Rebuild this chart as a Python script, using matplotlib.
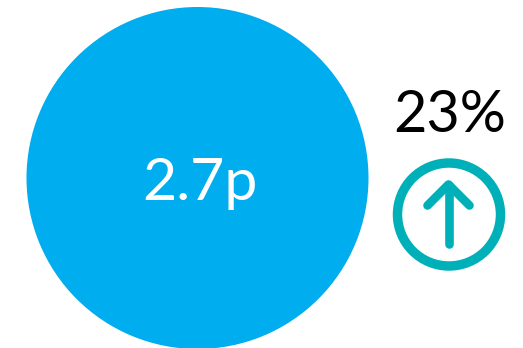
import matplotlib
matplotlib.use('Agg')
import matplotlib.pyplot as plt
from matplotlib.patches import Circle

W, H = 523, 348

value_label = '2.7p'
change_label = '23%'
bubble_x, bubble_y, bubble_r = 197.5, 178, 171
badge_x, badge_y, badge_r = 449, 214.5, 51.5
arrow_x = [448.5, 448.5]
arrow_y = [243.5, 184.5]
head_x = [427.5, 448.5, 469.5]
head_y = [205.5, 184.5, 205.5]

blue = '#00ADEF'
teal = '#00B0B9'

plt.rcParams['font.family'] = ['Lato', 'DejaVu Sans']

fig = plt.figure(figsize=(W / 100, H / 100), dpi=100)
ax = fig.add_axes([0, 0, 1, 1])
ax.set_xlim(0, W)
ax.set_ylim(H, 0)
ax.axis('off')

ax.add_patch(Circle((bubble_x, bubble_y), bubble_r, fc=blue, ec='none'))
ax.text(200, 200, value_label, color='white', fontsize=42.5, ha='center', va='baseline')

ax.text(449.5, 132.5, change_label, color='black', fontsize=41.5, ha='center', va='baseline')
ax.add_patch(Circle((badge_x, badge_y), badge_r, fc='none', ec=teal, lw=6.8))
ax.plot(arrow_x, arrow_y, color=teal, lw=6.2, solid_capstyle='round')
ax.plot(head_x, head_y, color=teal, lw=6.2, solid_capstyle='round', solid_joinstyle='round')

fig.savefig('out.png', dpi=100)
